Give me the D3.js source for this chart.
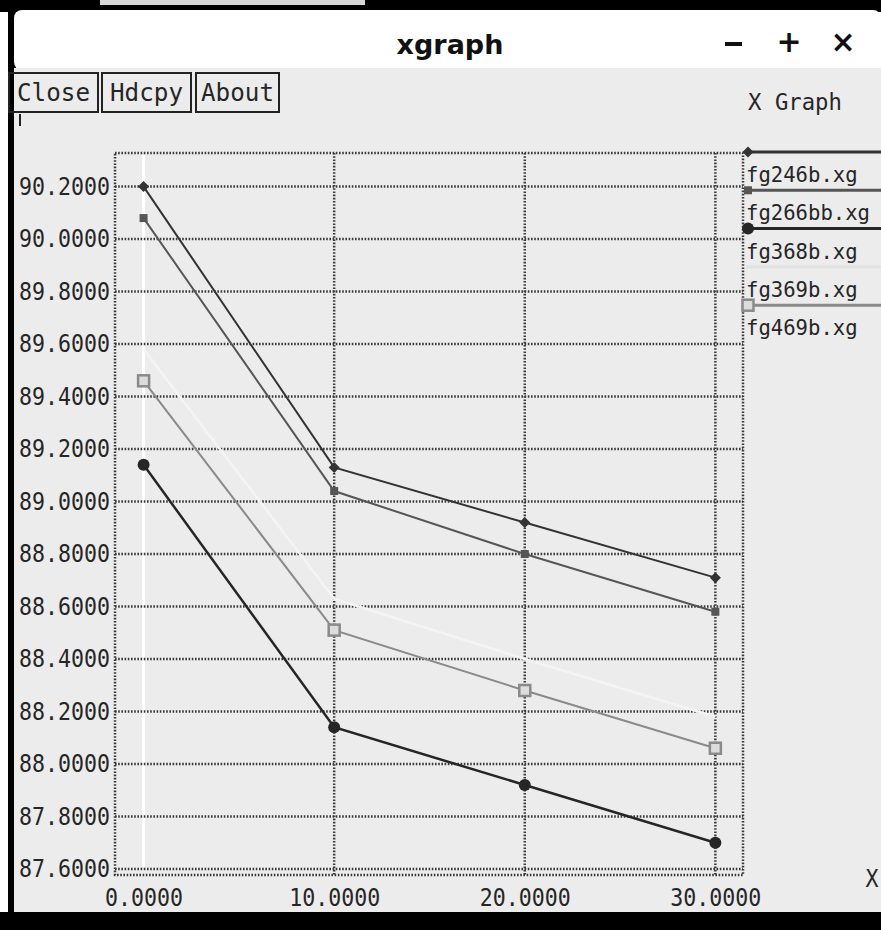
<!DOCTYPE html>
<html>
<head>
	<meta charset="utf-8">
	<title>xgraph</title>
	<style type="text/css">
		body {
			margin: 0;
			background: #ffffff;
		}
		svg {
			display: block;
		}
		.mono {
			font-family: 'DejaVu Sans Mono', 'Liberation Mono', monospace;
		}
	</style>
	<script src="https://d3js.org/d3.v7.min.js"></script>
</head>
<body>
	<svg width="881" height="930"></svg>
	<script type="text/javascript">
		// data
		var xValues = [0, 10, 20, 30];
		var seriesNames = ['fg246b.xg', 'fg266bb.xg', 'fg368b.xg', 'fg369b.xg', 'fg469b.xg'];
		var fg246b = [90.20, 89.13, 88.92, 88.71];
		var fg266bb = [90.08, 89.04, 88.80, 88.58];
		var fg368b = [89.14, 88.14, 87.92, 87.70];
		var fg369b = [89.58, 88.63, 88.40, 88.18];
		var fg469b = [89.46, 88.51, 88.28, 88.06];
		var yTicks = [87.6, 87.8, 88.0, 88.2, 88.4, 88.6, 88.8, 89.0, 89.2, 89.4, 89.6, 89.8, 90.0, 90.2];
		var xTicks = [0, 10, 20, 30];

		var allSeries = [fg246b, fg266bb, fg368b, fg369b, fg469b];
		// styles for each series: line colour, width, marker
		var styles = [
			{col: '#333333', w: 2, mark: 'diamond'},
			{col: '#565656', w: 2, mark: 'square'},
			{col: '#262626', w: 2.5, mark: 'circle'},
			{col: '#f4f4f4', w: 2.5, mark: 'none'},
			{col: '#8a8a8a', w: 2, mark: 'open'}];

		var svg = d3.select('svg');

		// the old X font is tall and narrow: squeeze a bigger font to the char width
		function xfont(sel, size, charW) {
			sel.attr('class', 'mono')
				.attr('font-size', size + 'px')
				.attr('fill', '#262626')
				.attr('lengthAdjust', 'spacingAndGlyphs')
				.attr('textLength', function() { return this.textContent.length * charW; });
			return sel;
		}

		// window frame
		svg.append('rect').attr('x', 0).attr('y', 0).attr('width', 881).attr('height', 12).attr('fill', '#000');
		svg.append('rect').attr('x', 100).attr('y', 0).attr('width', 265).attr('height', 5).attr('fill', '#d8d8d8');
		svg.append('rect').attr('x', 8).attr('y', 0).attr('width', 8).attr('height', 930).attr('fill', '#000');
		svg.append('rect').attr('x', 14).attr('y', 10).attr('width', 867).attr('height', 60)
			.attr('rx', 8).attr('fill', '#ffffff');
		svg.append('rect').attr('x', 14).attr('y', 68).attr('width', 867).attr('height', 846).attr('fill', '#ececec');
		svg.append('rect').attr('x', 0).attr('y', 912).attr('width', 881).attr('height', 18).attr('fill', '#000');

		// title bar
		svg.append('text')
			.attr('x', 450).attr('y', 54)
			.attr('text-anchor', 'middle')
			.attr('font-family', 'DejaVu Sans')
			.attr('font-weight', 'bold')
			.attr('font-size', '27px')
			.attr('fill', '#111')
			.text('xgraph');
		svg.append('line').attr('x1', 725).attr('x2', 742).attr('y1', 44).attr('y2', 44)
			.attr('stroke', '#111').attr('stroke-width', 4);
		[['+', 789], ['×', 843]].forEach((d) => {
			svg.append('text')
				.attr('x', d[1]).attr('y', 52)
				.attr('text-anchor', 'middle')
				.attr('font-family', 'DejaVu Sans')
				.attr('font-weight', 'bold')
				.attr('font-size', '30px')
				.attr('fill', '#111')
				.text(d[0]);
		});

		// buttons
		var buttons = [['Close', 8, 89], ['Hdcpy', 101, 89], ['About', 195, 83]];
		buttons.forEach((b) => {
			svg.append('rect')
				.attr('x', b[1] + 1).attr('y', 73)
				.attr('width', b[2]).attr('height', 39)
				.attr('fill', 'none')
				.attr('stroke', '#222').attr('stroke-width', 2);
			svg.append('text')
				.attr('x', b[1] + 1 + b[2] / 2).attr('y', 101)
				.attr('text-anchor', 'middle')
				.text(b[0])
				.call(xfont, 25, 14.6);
		});
		svg.append('line').attr('x1', 20).attr('x2', 20).attr('y1', 114).attr('y2', 126)
			.attr('stroke', '#222').attr('stroke-width', 2);
		svg.append('text')
			.attr('x', 795).attr('y', 110)
			.attr('text-anchor', 'middle')
			.text('X Graph')
			.call(xfont, 23, 13.4);

		// scales
		var xScale = d3.scaleLinear().domain([-1.5, 31.45]).range([115, 743]);
		var yScale = d3.scaleLinear().domain([87.577, 90.328]).range([875, 153]);

		var dotted = {col: '#3a3a3a', w: 2.5, dash: '1.6,1.6'};

		// zero line drawn white
		svg.append('line')
			.attr('x1', xScale(0)).attr('x2', xScale(0))
			.attr('y1', 155).attr('y2', 867)
			.attr('stroke', '#ffffff').attr('stroke-width', 3);

		// grid
		svg.append('g')
			.selectAll('line')
			.data(yTicks)
			.enter()
			.append('line')
			.attr('x1', 115).attr('x2', 743)
			.attr('y1', (d) => yScale(d)).attr('y2', (d) => yScale(d))
			.attr('stroke', dotted.col).attr('stroke-width', dotted.w)
			.attr('stroke-dasharray', dotted.dash);
		svg.append('g')
			.selectAll('line')
			.data(xTicks.filter((d) => d != 0))
			.enter()
			.append('line')
			.attr('x1', (d) => xScale(d)).attr('x2', (d) => xScale(d))
			.attr('y1', 153).attr('y2', 875)
			.attr('stroke', dotted.col).attr('stroke-width', dotted.w)
			.attr('stroke-dasharray', dotted.dash);
		svg.append('rect')
			.attr('x', 115).attr('y', 153)
			.attr('width', 628).attr('height', 722)
			.attr('fill', 'none')
			.attr('stroke', dotted.col).attr('stroke-width', dotted.w)
			.attr('stroke-dasharray', dotted.dash);

		// axes, labels only
		var yAxis = d3.axisLeft(yScale).tickValues(yTicks).tickFormat(d3.format('.4f')).tickSize(0).tickPadding(5);
		var gy = svg.append('g').attr('transform', 'translate(115,0)').call(yAxis);
		var xAxis = d3.axisBottom(xScale).tickValues(xTicks).tickFormat(d3.format('.4f')).tickSize(0).tickPadding(14);
		var gx = svg.append('g').attr('transform', 'translate(0,875)').call(xAxis);
		[gy, gx].forEach((g) => {
			g.select('.domain').remove();
			g.selectAll('text').call(xfont, 24, 13);
		});
		svg.append('text')
			.attr('x', 872).attr('y', 887)
			.attr('text-anchor', 'middle')
			.text('X')
			.call(xfont, 24, 13);

		var lineGenerator = d3.line()
			.x((d, i) => xScale(xValues[i]))
			.y((d) => yScale(d));

		function drawMarker(g, x, y, s) {
			if (s.mark == 'diamond') {
				g.append('path')
					.attr('d', 'M' + x + ',' + (y - 5.5) + 'L' + (x + 5.5) + ',' + y + 'L' + x + ',' + (y + 5.5) + 'L' + (x - 5.5) + ',' + y + 'Z')
					.attr('fill', s.col);
			} else if (s.mark == 'square') {
				g.append('rect')
					.attr('x', x - 4).attr('y', y - 4).attr('width', 8).attr('height', 8)
					.attr('fill', s.col);
			} else if (s.mark == 'circle') {
				g.append('circle')
					.attr('cx', x).attr('cy', y).attr('r', 6)
					.attr('fill', s.col);
			} else if (s.mark == 'open') {
				g.append('rect')
					.attr('x', x - 5.5).attr('y', y - 5.5).attr('width', 11).attr('height', 11)
					.attr('fill', '#dcdcdc')
					.attr('stroke', s.col).attr('stroke-width', 2.5);
			}
		}

		// series lines and markers
		allSeries.forEach((vals, k) => {
			var s = styles[k];
			var g = svg.append('g');
			g.append('path')
				.attr('d', lineGenerator(vals))
				.attr('fill', 'none')
				.attr('stroke', s.col)
				.attr('stroke-width', s.w);
			vals.forEach((v, i) => drawMarker(g, xScale(xValues[i]), yScale(v), s));
		});

		// legend on the right
		seriesNames.forEach((name, k) => {
			var s = styles[k];
			var ly = 152 + k * 38.3;
			var g = svg.append('g');
			g.append('line')
				.attr('x1', 746).attr('x2', 881)
				.attr('y1', ly).attr('y2', ly)
				.attr('stroke', k == 3 ? '#e2e2e2' : s.col)
				.attr('stroke-width', 3);
			drawMarker(g, 748, ly, s);
			g.append('text')
				.attr('x', 746).attr('y', ly + 30)
				.text(name)
				.call(xfont, 21, 12.4);
		});
	</script>
</body>
</html>
